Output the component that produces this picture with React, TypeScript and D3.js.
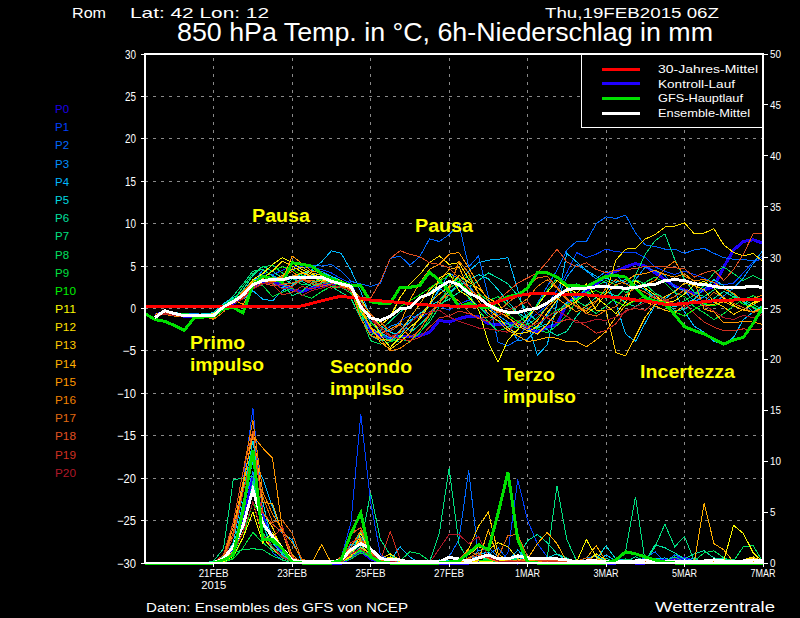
import React from "react";
import * as d3 from "d3";

const tickSteps = [7, 15, 23, 31, 39, 47, 55, 63];
const tickLabels = ["21FEB", "23FEB", "25FEB", "27FEB", "1MAR", "3MAR", "5MAR", "7MAR"];
const tempTicks = [30, 25, 20, 15, 10, 5, 0, -5, -10, -15, -20, -25, -30];
const precipTicks = [50, 45, 40, 35, 30, 25, 20, 15, 10, 5, 0];
const memberNames = ["P0","P1","P2","P3","P4","P5","P6","P7","P8","P9","P10","P11","P12","P13","P14","P15","P16","P17","P18","P19","P20"];
const memberColors = ["#1c00e8","#0040ff","#0068ff","#0090ff","#00b8ff","#00d8e0","#00e0a0","#00e080","#00e060","#00e040","#00f000","#f8f800","#ffe000","#ffc800","#ffb000","#ff9800","#f08000","#e06810","#e05020","#d03020","#b01828"];
const legendNames = ["30-Jahres-Mittel", "Kontroll-Lauf", "GFS-Hauptlauf", "Ensemble-Mittel"];
const legendColors = ["#ff0000", "#2000ff", "#00e000", "#ffffff"];

const tempClim = [.2,.2,.2,.2,.2,.2,.2,.2,.2,.2,.2,.2,.2,.2,.25,.25,.3,.6,.9,1.2,1.45,1.3,1.15,1,.9,.8,.7,.6,.5,.4,.35,.3,.25,.2,.3,.4,.8,1.2,1.5,1.7,1.75,1.75,1.7,1.7,1.65,1.6,1.5,1.4,1.3,1.2,1.0,.9,.7,.5,.5,.6,.7,.8,.9,1,1,1.05,1.1,1.1];
const tempMean = [null,-1.1,-.25,-.6,-.85,-.85,-.85,-.8,.2,.8,1.6,2.8,3.3,3.4,3.4,3.7,3.6,3.6,3.7,3.2,2.9,2.6,.2,-1.1,-1.4,-.9,-.05,.1,1.3,1.7,2.5,3.2,2.8,1.8,1.3,.4,-.15,-.45,-.45,-.15,.05,.65,1.45,2.2,2.4,2.4,2.55,2.6,2.45,2.4,2.45,2.75,2.85,3.3,3.4,3.3,2.9,2.85,2.6,2.45,2.45,2.5,2.65,2.45];
const tempGfs = [-.6,-1.3,-1.5,-2,-2.6,-1.1,-1,-.9,0,.1,-.5,2.8,3.8,3.5,3.1,5.4,5.2,5,4.1,3.5,3.1,2.7,2.7,.8,.6,.6,2.5,2.5,2.7,4.3,3.3,2,.2,.6,.2,.1,.8,1.4,1.6,2.4,4.2,4.2,3.7,2.75,2.7,2.55,3.2,3.8,3.9,3.7,2.45,1.25,.85,.65,-.75,-2.15,-2.6,-3,-3.6,-4.2,-3.7,-3.4,-1.75,.2];
const tempControl = [null,-.8,-.4,-.7,-.9,-.9,-.9,-.8,.1,.6,1.4,2.6,3.1,3.1,2.8,2.2,2,2.4,2.7,2.9,2.9,2.7,0,-2.6,-3.3,-3.4,-3.3,-3.3,-3.2,-2.8,-1.4,-1.6,-1.2,-.9,-1,-1.8,-1.9,-1.8,-1.7,-2.3,-2.8,-2.2,-1.9,.6,1.4,2,2.9,3.9,4.4,4.9,5.3,5,4.2,3.4,2.6,2.2,1.7,2.2,2.6,4.9,6.9,7.9,8.1,7.7];
const tempP0 = tempControl;
const tempP1 = [null,-.7,-.5,-.8,-.9,-.8,-.7,-.8,.3,.9,1.5,2.9,4.1,4,4.5,5,4.9,4.8,4.6,4.2,3.5,3,.5,-1.5,-2.8,-2.6,-1.5,-.8,-1.2,-.4,.3,-.2,.5,1,.2,-.6,-1.5,-2.2,-2,-1.4,-.6,.4,2.2,4.2,6.6,6,6.4,7,6.7,6.6,6.6,6,4.9,4.4,4,4.4,4,3.6,3,2.8,3,4.2,5.5,5.9];
const tempP2 = [null,-.9,-.4,-.6,-.9,-1,-.8,-.7,.1,.7,1.8,2.4,3.7,3.5,3.8,4.6,4.8,5.1,5,5.2,4.4,3.2,2.9,2.6,3,5.9,6.2,5.1,6.1,8.2,7.9,8.7,10,4.9,6.2,1.4,-4,-4.4,-3.7,-1.7,.6,2.6,4.5,6.9,7.9,7.9,10,10.8,10.6,11,8.9,7.5,7.3,7,7,6.5,6.9,7.1,6.5,6,5.8,5.8,5.6,6.2];
const tempP3 = [null,-.8,-.3,-.5,-.7,-.6,-.7,-.6,.5,1.2,1.4,3.1,4.5,3.9,3.4,3.5,3.2,3.9,4.4,3.8,3.1,2.5,-.4,-2.4,-3,-2.1,-1.7,-2.6,-1.2,.6,2.1,4.2,3.5,2.7,1.3,.2,-.8,-1.6,-3.8,-3.6,-2.4,-.8,1,3.7,5.2,4.4,3.5,4.4,3.9,2.9,3.4,4.9,4.4,3.9,2.5,2.1,.8,1.4,.7,1.5,2.4,3.6,5.3,6.9];
const tempP4 = [null,-.9,-.5,-.7,-.8,-.9,-.8,-.9,.2,.6,1.1,2.1,1.1,.9,2.1,2.7,3.6,4.6,5.5,6.8,6.5,4.5,2,-1.1,-2.8,-3.5,-2.6,-1.4,-.6,.2,2.4,1.6,3.2,4.4,5.4,5.7,5.8,6,2.2,-1.7,-5.5,-4.3,.6,6.5,5.5,4.5,3.8,3,.6,-3,-3.9,-1.7,.4,1.1,2.1,-.4,-2.1,-2.8,-3.9,-4.2,-3.4,-1.3,-.4,.4];
const tempP5 = [null,-.7,-.4,-.5,-.6,-.8,-.6,-.5,.6,1.3,2,3.4,3.8,3,2.4,3.5,4.1,4.5,4.2,3.8,3.3,2.4,.9,-.6,-2,-2.8,-3.2,-1.6,-.7,.3,.9,2,2.6,3.4,4,3.5,2.2,.8,-.5,-1.2,-2.3,-1.8,-.4,.7,1.2,2.4,3.3,3.6,3.1,3.4,2.8,2.2,1.3,.5,.2,.6,1.1,2.3,3.4,2.7,1.6,.8,-.5,.4];
const tempP6 = [null,-.8,-.6,-.7,-.8,-.7,-.8,-.7,.4,1,2.2,3.9,5,4.4,3.6,2.9,3.2,2.6,3,3.3,2.9,2.1,-.6,-3.2,-3.8,-3.6,-4,-2.9,-1.9,-.8,.5,1.1,1.9,2.5,3.3,4.2,3.6,2.9,1.5,-.5,-1.5,-2.5,-3.2,-2.7,-.9,.4,1.3,2,1.5,.7,.2,1.1,1.7,1,-.3,-.1,.7,.4,1.2,2,1.4,.9,.1,-.6];
const tempP7 = [null,-1,-.6,-.8,-1,-.9,-.9,-.8,.1,1.5,2.9,4.4,4.6,3.8,3.1,1.5,2,3.1,3.4,2.6,1.9,1.2,-1.2,-3.1,-2.6,-1.5,-.4,.3,1.2,1.9,3,2.6,3.6,1.2,.3,-.9,-1.4,-1.8,-2.3,-1.9,-1.1,.2,1.4,2.4,2.9,1.8,1.6,1.2,1.5,1.3,3.9,6.4,8,8.8,5.8,3.4,1.9,1.4,2.2,2.6,1.6,1,.5,-.2];
const tempP8 = [null,-.8,-.6,-.7,-.9,-1,-.9,-1,-.2,.9,2.6,4.1,4.9,5.1,4.2,3.6,2.8,2.9,3.3,3.6,3.1,2.8,-.9,-3.8,-4.2,-3.9,-3.2,-4,-2.8,-1.6,.2,1.6,2.8,1.8,-.2,-1.6,-2.7,-2.2,-1.6,-.8,.5,2.1,3.6,2.6,.9,.2,-.6,.3,1.3,2.4,3.4,2.9,1.8,1.2,.4,.9,1.6,2.7,4.2,4.9,4.1,3.3,3.9,3.3];
const tempP9 = [null,-.8,-.7,-.7,-.6,-.7,-.8,-.6,.4,1.1,1.7,3.3,2.7,1.4,1.9,2.4,1.6,1.2,2,2.6,2.5,1.8,-.2,-1.6,-2.9,-3.9,-3.6,-3.9,-2.9,-1.2,.9,2.4,3.1,3.9,1.8,.9,1.4,.4,-.6,-1.9,-2.4,-2.9,-2,-.8,.9,1.9,2.6,3.3,2.8,1.9,2.4,3.1,3.7,3,1.9,1.4,.2,-.5,-1.3,-.6,.3,1.1,1.5,1];
const tempP10 = [null,-.9,-.5,-.6,-.8,-.7,-.7,-.7,.3,.7,1.3,2.6,3.6,4.5,4.9,4.6,3.9,3.6,3.3,3,2.7,2.4,-.6,-2,-1.6,-.9,.2,.9,1.6,2.4,3.2,3.9,3.1,2.1,1.6,.5,.1,-.7,-1.6,-2.1,-1.8,-1,-.2,.4,1.1,1.8,2.1,1.6,.8,.3,.9,1.5,.7,.3,-.4,-.9,-.1,.6,.3,.9,1.3,.5,.2,-.3];
const tempP11 = [null,-.7,-.5,-.7,-.8,-.8,-.7,-.9,.2,.8,1.9,3.4,4.1,5.2,6,5.4,4.6,4,3.7,3.6,3,2.4,1.2,-.9,-3.1,-4.6,-3.4,-2.2,-1.3,.4,3.6,4.2,2.1,1.4,-.1,-4,-6.3,-3.7,-2.5,-1.1,.3,1.9,3.3,2.5,1.8,2.9,1.3,.4,-.6,.8,3.3,2.4,1.6,.6,.9,1.7,2.8,3.2,2.4,1.2,.4,-.2,.7,1.2];
const tempP12 = [null,-.7,-.4,-.7,-.7,-.9,-.8,-.6,.1,.8,1.6,3.2,3.6,4.4,5.6,5,4.3,3.8,3.2,3.6,3.3,2.7,.5,-1,-2,-1,1.3,2.9,4,5.4,6.2,5.2,5.4,3.5,1.8,-.1,-1,-2.3,-3,-2.8,-2.1,-.5,1,2.2,.6,-.6,.2,1.8,5.7,7,7.1,8.2,8.7,9.6,9.7,10.1,8.8,8.9,9.4,7.5,6.6,6.2,6.5,5.5];
const tempP13 = [null,-.8,-.5,-.6,-.9,-.8,-.8,-1,.1,.7,1.4,2.8,3.5,3.3,3.9,4.6,4.9,4.2,3.9,3.3,2.9,2.3,-.3,-2.1,-4,-4.8,-4,-2.9,-1,.6,1.7,2.6,3.9,3.1,2.4,1.2,.6,-1,-2.1,-2.6,-3,-1.9,-.5,.2,.9,1.7,-.2,-.2,-5.2,-5.6,-3.3,-1,.5,1.4,2,3,2.7,2.2,.8,.2,-.7,-.1,.5,1.1];
const tempP14 = [null,-.9,-.5,-.6,-.7,-.8,-.9,-1.1,.2,.9,1.8,3,3.4,3.2,3.1,3.8,4.2,3.7,3.5,3.2,2.8,2.4,.4,-2.4,-3.6,-3.8,-2.7,-1.1,.5,2.2,3.2,4.6,4.9,2.4,.9,-.6,-1.5,-2.6,-3.2,-3.9,-3.7,-3.4,-3.5,-3.9,-3.9,-4.5,-3.7,-2.7,-1,.4,1.1,.8,.3,-.2,-.5,.4,1,.3,.5,.8,.3,-.2,-.4,.1];
const tempP15 = [null,-.8,-.6,-.8,-.9,-.7,-.9,-1.2,.3,1,.5,2.5,3.9,3.2,3.4,6.2,5.3,4.4,4.2,3.6,3,2.4,.2,-2.2,-3,-2.4,-1.8,1,3,4.6,5.2,6.4,6.6,4.8,2.8,.9,-.3,-1.1,-1.8,-2.4,-1.4,.2,1.2,.4,-.4,.3,.9,1.7,2.8,3.2,4,4.1,4.5,4,3.7,4.1,3.2,-.1,-.4,-1.7,-1.7,-1.5,-1.6,-1.9];
const tempP16 = [null,-.9,-.7,-.9,-1,-1,-.9,-1.3,-.4,.8,2,3.2,2.9,3.4,3.7,4.4,3.4,3.3,3.1,3.4,2.7,2.2,-1.2,-3.2,-3.6,-5,-4.7,-3.9,-2.5,-.8,.6,2.2,5.6,4.2,1.8,.2,-.4,-.9,.3,1.2,2.6,3.4,2.4,1,.3,-.3,.8,2.4,3.4,2.9,2.3,2.8,3.3,4.7,5.6,3.8,3.3,3.4,3.1,2.3,1.8,.8,1.2,1.6];
const tempP17 = [null,-.8,-.6,-.7,-.9,-.8,-1,-1.1,.1,.8,1.5,2.7,3.3,3.7,2.9,3,3.4,2.9,2.6,2.9,3,2.4,.8,-.7,-1.6,-2.7,-1.9,-3.4,-2.6,-.6,.9,1.6,.9,-.4,-1.2,-1,-.4,.7,1.5,2.6,3.6,3.8,2.5,1.2,.2,-.6,-.9,-.2,.2,1.6,2.4,1.9,1.2,.9,1.4,2.2,1.5,.8,1.9,1.3,.6,.1,-.5,-.1];
const tempP18 = [null,-.7,-.5,-.6,-.8,-.9,-.8,-.9,.3,.8,1.2,2.3,3,2.7,2.8,2.6,3.4,3.1,2.8,2.4,2.6,2,1.3,1.2,3.2,5.9,6.8,6.4,6.1,5.4,5.2,4.8,3.6,2.4,1.4,.3,1,2,3,3.6,4.2,5.5,7,5.5,4.9,5.4,4.6,4.2,4.5,4.6,4.7,5,4.9,4.9,4.8,4.7,3.7,4.2,4.5,3.3,4.6,6.4,8.8,8.8];
const tempP19 = [null,-.9,-.7,-.8,-1,-1,-1.1,-.9,.2,.7,1.3,2.5,3.2,2.9,1.6,1.9,2.6,2.3,2.8,3.3,2.8,2.4,.1,-1,-2.2,-3.2,-3.6,-3.8,-3.4,-2.2,-1.1,-.9,-.3,-.6,-1.1,-1.6,-.8,-.2,.3,.8,-.6,-1.1,-1.7,-1.3,-1.4,-2.1,-2.9,-2.6,-1.8,-.2,0,-.2,.8,.9,.6,.7,-.6,-1.6,-2.2,-2.6,-2.6,-2.4,-2.5,-2.4];
const tempP20 = [null,-.8,-.6,-.8,-.9,-.9,-.8,-.9,.1,.6,1.1,2.3,2.9,3.1,2.3,2.5,1.5,2.1,2.4,2.8,2.5,2.1,.6,-1.2,-2.5,-3.3,-2.9,-1.7,-.7,-.5,-.2,-1,-1.5,-1.9,-2.3,-2.4,-2.6,-2.8,-1.4,-2.1,-1.8,-1,-.3,-.9,-1.7,-1.6,-1.3,-1.4,-1,-.4,.2,.7,1.6,1.1,.5,.2,.9,.4,-.3,-1.1,-1.3,-.8,-1.1,-.7];
const tempMembers = [tempP0,tempP1,tempP2,tempP3,tempP4,tempP5,tempP6,tempP7,tempP8,tempP9,tempP10,tempP11,tempP12,tempP13,tempP14,tempP15,tempP16,tempP17,tempP18,tempP19,tempP20];

const precipMean = [0,0,0,0,0,0,0,0,.45,1.6,3.7,7.2,3.9,2.6,1.4,.3,.1,.1,.1,.1,.3,1.3,1.9,1.4,.45,.3,.3,.1,.1,.1,.1,.55,.4,.2,.5,.8,.4,.4,.7,.5,.4,.4,.4,.3,.1,.2,.2,.1,.1,.1,.2,.3,.2,.1,.1,.2,.1,.2,.3,.2,.1,.2,.3,.2];
const precipGfs = [0,0,0,0,0,0,0,0,.3,.8,5.2,11.1,2.3,2.3,1.4,.1,0,0,0,0,.3,2.9,4.9,.6,.1,0,0,0,0,0,0,.1,.2,1,1.8,1.3,4.9,8.9,2.3,.1,0,0,0,0,0,0,0,0,.3,1.1,.9,.6,.3,.1,0,0,0,0,0,0,0,0,0,0];
const precipControl = [0,0,0,0,0,0,0,0,.2,1.5,4,8.5,4.5,2.5,1,.2,0,0,0,0,0,.5,1.2,.4,.1,0,0,0,0,0,0,0,0,0,.2,.1,.3,.4,0,.1,.1,.2,.1,0,0,0,0,0,0,.1,0,0,.2,.2,.4,.5,.1,0,0,0,0,0,0,0];
const precipP0 = precipControl;
const precipP1 = [0,0,0,0,0,0,0,0,.5,3,8,15.2,5,2,1,.3,0,0,0,0,.5,4,14.6,6,.8,.2,0,0,0,0,.1,.3,0,0,0,0,0,1,8.2,4.2,1.9,.6,0,.2];
const precipP2 = [0,0,0,0,0,0,0,0,.1,1,3.5,7,4,1,.3,0,0,0,0,0,.1,.8,2.2,1,.2,0,0,0,0,.1,.2,.6,2.3,9.1,.6,.8,1.5,.3,.2,.5,.3,.1,.5,.1,0,0,0,0,.3,.4,.2,.5,1.1,.1,.8,.4];
const precipP3 = [0,0,0,0,0,0,0,0,.3,1.2,5.5,9,3,1.6,.5,.1,0,0,0,0,.2,1.5,3,1.3,.1,0,0,0,0,0,.2,.1,0,.3,1.2,1.5,.6,.2,.4,.3,.1,0,.2,.1,0,.5,.7,.2];
const precipP4 = [0,0,0,0,0,0,0,0,.6,1.4,6,10,8.3,5.5,2.9,2.3,.1,0,0,0,.3,1.8,2.6,1.2,.3,.2,1.6,.6,0,0,0,.1,.1,.2,.8,1.1,.3,.1,1.3,.2,0,.1,.4,.1,0,.2,.1,.8,.2,.4,0,0,.4,.5,.1,.2,.5];
const precipP5 = [0,0,0,0,0,0,0,0,.4,2,7,12,6,2,.8,.2,0,0,0,0,.1,.7,1.6,.8,.1,0,.2,0,0,0,.3,.2,.1,0,.4,.8,.2,.1,.6,.2,.2,.5,.9,.2,.3,0,.3,1.7,.4];
const precipP6 = [0,0,0,0,0,0,0,0,.2,.9,3,8,3.8,1.5,1,.2,0,0,0,0,.2,1,3,1.5,.2,0,0,.1,0,0,0,0,.1,0,.5,.4,.3,.5,.4,2.2,2.8,2,.9,.5,0,0,.2,.5,0,.1,.6,.2,1.8,1.5,1,.4,.9,1.2,.5,.4,.3];
const precipP7 = [0,0,0,0,0,0,0,.2,1.4,8.2,8.3,8.5,3,1.5,.5,.1,0,0,0,0,.3,1,1.8,6.9,2.3,.8,.1,.2,0,.1,2.9,9.3,1.9,.1,.2,.4,.1,.3,.2,.1,.3,.5,7.6,2.3,.2,0,0,.3,.1,1.2,6.5,.1,1.6,3.8,1.6,2.6,.2,.2,.1,.2];
const precipP8 = [0,0,0,0,0,0,0,.1,.7,1,1.3,1.4,1.3,.7,.3,0,0,0,0,0,.1,.6,1.2,.7,.2,.3,.2,1.1,.9,.2,.1,0,0,.2,.3,.1,.1,.4,.3,.3,.4,.2,.4,.1,.1,0,.2,.1,0,.4,.2,.2,.3,.2,.6,.1,.2,1,1.2,.5,.2,1.6,1.7,.1];
const precipP9 = [0,0,0,0,0,0,0,0,.1,.4,1.5,3,2,1.2,.7,.1,0,0,0,0,.1,.4,1,.6,.1,0,0,0,0,0,0,.2,.3,.1,.5,.3,.1,.3,.2,.1,0,.1,.2,0,.1,.3,.1];
const precipP10 = [0,0,0,0,0,0,0,0,.1,.5,2.5,6,4.3,2,1.4,.3,0,0,0,0,.2,.8,1.3,.6,.1,0,0,0,0,0,.1,.2,.1,.1,.2,.2,.3,.1,.1,.2,.1,.1,.1];
const precipP11 = [0,0,0,0,0,0,0,0,.1,.7,2.5,5,2,3,1.6,.2,0,0,0,0,.1,.6,2.9,1,.2,.6,.1,0,0,0,0,0,0,.1,.2,.1,.3,.2,.2,.1,.2,.1,.3,0,.1,2.3,.6,.1,0,.1,.1,0,0,.1,0,0,0,.1,0,.2,3.7,2.9,1,.1];
const precipP12 = [0,0,0,0,0,0,0,0,.2,1.2,3,6,2.5,1.4,.6,.1,0,0,0,0,.3,1.2,1.8,.8,.4,.9,.3,0,0,0,0,.1,.4,.8,1.6,1.3,2,1.6,.4,.1,0,.1,.1,.3,0,.1,.9,.3,0,.1,.1,.1,0,.2,.1,.1,0,0,.1,.2,.1,.3,.6,.1];
const precipP13 = [0,0,0,0,0,0,0,0,.3,1.5,3.5,7,5,3.5,1.2,.3,0,0,0,0,.1,.7,1.5,.9,.6,.2,0,0,0,0,.1,.2,.3,1.4,3.6,5,.9,.2,.3,.1,.2,.1,0,.1,.3,.2,.1,.2,0,0,.1,0,.1,.2,0,0,.2,.1,.1,.1,0,.2,.5,.3];
const precipP14 = [0,0,0,0,0,0,0,0,.4,3,7.5,13,6,5.8,3,.2,.1,0,1.8,0,.2,1.1,2.4,1.4,.2,0,.1,0,0,0,.1,0,.2,.1,.3,3.2,.5,.2,.2,.4,1.9,3,1.9,.1,.2,.5,1.7,.2,0,0,.1,.2,0,0,.3,.2,.1,5.9,1.9,1.3,.1,.2,.1,.2];
const precipP15 = [0,0,0,0,0,0,0,0,.5,3.5,8,12.5,11.3,10.3,3.4,.8,0,0,0,0,.3,1.3,2.2,1,.4,0,.1,0,0,0,0,.1,.3,.2,.4,.8,.5,.2,.1,.2,.3,.1,.1,0,.2,.1,.4,.1,0,.1,0,.1,.1,0,.1,.3,.1,.2,.1,.1,0,.2,.4,.1];
const precipP16 = [0,0,0,0,0,0,0,0,.6,4,9,14,7,4.8,3.2,2,.4,0,0,0,.4,1.6,3.2,1.2,.3,.1,0,0,0,0,0,.2,.1,.5,1,.4,.1,.2,.3,.2,.1,.1,.3,.2,.1,.2,.1];
const precipP17 = [0,0,0,0,0,0,0,0,.5,3,7,11,6.5,4,4.2,2.9,.3,0,0,0,.6,3,3.4,1.1,.1,0,0,.1,0,0,0,.1,.4,1.2,.7,.5,.6,2.7,2.8,.6,.2,.5,.3,.1,.2,.5,.3,.1,0,0,.1,.1,0,0,.1,.1,.1,0,.1,.1,.1];
const precipP18 = [0,0,0,0,0,0,0,0,.8,4,9,13,5,3.8,3,.6,.1,0,0,0,.5,2.8,3.5,.9,.3,.3,0,0,0,0,0,.1,.2,.3,.4,.6,.5,.3,.1,.6,.3,.2,.2,.1,0,.2,.3,.1];
const precipP19 = [0,0,0,0,0,0,0,0,.4,2.6,7,10.5,4.2,2.4,3.6,.5,0,0,0,0,.3,2,2.5,.8,.2,3.1,.4,0,0,0,0,.1,.2,.4,.8,.5,.2,.1,.2,.1,0,.2,.1,0,.1];
const precipP20 = [0,0,0,0,0,0,0,0,.2,1,3,6,2.8,1.6,.6,.1,0,0,0,0,.1,.9,1.4,.7,.5,.2,0,0,0,0,1.4,2.8,2.8,1.9,2.6,.6,.2,.1,.2,.1,0,0,.1,0,.1];
const precipMembers = [precipP0,precipP1,precipP2,precipP3,precipP4,precipP5,precipP6,precipP7,precipP8,precipP9,precipP10,precipP11,precipP12,precipP13,precipP14,precipP15,precipP16,precipP17,precipP18,precipP19,precipP20];

const annotations: [string, number, number, number][] = [
  ["Pausa", 252, 222, 58], ["Pausa", 415, 232, 58],
  ["Primo", 190, 349, 55], ["impulso", 190, 371, 74],
  ["Secondo", 330, 373, 82], ["impulso", 330, 395, 74],
  ["Terzo", 503, 381, 52], ["impulso", 503, 403, 73],
  ["Incertezza", 640, 378, 95],
];

const W = 800, H = 618;
const L = 145, R = 763, T = 54, B = 563;
const x = d3.scaleLinear().domain([0, 63]).range([L, R]);
const yT = d3.scaleLinear().domain([-30, 30]).range([B, T]);
const yP = d3.scaleLinear().domain([0, 50]).range([B, T]);
const FONT = "'Liberation Sans', Arial, sans-serif";

const tempLine = d3.line<number | null>().defined(d => d !== null).x((_, i) => x(i)).y(d => yT(d as number));
const precipLine = d3.line<number>().x((_, i) => x(i)).y(d => yP(d));

function times(a: number[]) {
  return d3.range(64).map(i => a[i] ?? 0);
}

function Txt(p: any) {
  const { len, children, size = 11, fill = "#fff", weight = 400, anchor = "start", ...rest } = p;
  return (
    <text fontFamily={FONT} fontSize={size} fill={fill} fontWeight={weight} textAnchor={anchor}
      textLength={len} lengthAdjust={len ? "spacingAndGlyphs" : undefined} {...rest}>{children}</text>
  );
}

export default function App() {
  return (
    <svg width={W} height={H} viewBox={`0 0 ${W} ${H}`} style={{ position: "absolute", left: 0, top: 0, display: "block", background: "#000" }}>
      <rect width={W} height={H} fill="#000" />
      <g shapeRendering="crispEdges">
        {tempTicks.filter(t => t !== 30 && t !== -30).map(t => (
          <line key={t} x1={L} x2={R} y1={yT(t)} y2={yT(t)} stroke="#8a8a8a" strokeWidth={1} strokeDasharray="3 5" />
        ))}
        {tickSteps.slice(0, -1).map(s => (
          <line key={s} x1={x(s)} x2={x(s)} y1={T + 4} y2={B} stroke="#8a8a8a" strokeWidth={1} strokeDasharray="3 5" />
        ))}
        <path d={tempLine(tempControl) as string} fill="none" stroke={legendColors[1]} strokeWidth={3} />
        <path d={precipLine(times(precipControl)) as string} fill="none" stroke={legendColors[1]} strokeWidth={3} />
        {tempMembers.map((m, i) => (
          <path key={i} d={tempLine(m) as string} fill="none" stroke={memberColors[i]} strokeWidth={1} />
        ))}
        {precipMembers.map((m, i) => (
          <path key={i} d={precipLine(times(m)) as string} fill="none" stroke={memberColors[i]} strokeWidth={1} />
        ))}
        <path d={tempLine(tempGfs) as string} fill="none" stroke={legendColors[2]} strokeWidth={3} />
        <path d={tempLine(tempClim) as string} fill="none" stroke={legendColors[0]} strokeWidth={3} />
        <path d={tempLine(tempMean) as string} fill="none" stroke={legendColors[3]} strokeWidth={3} />
        <path d={precipLine(times(precipMean)) as string} fill="none" stroke={legendColors[3]} strokeWidth={3} />
        <path d={precipLine(times(precipGfs)) as string} fill="none" stroke={legendColors[2]} strokeWidth={3} />

        {/* legend */}
        <rect x={581.5} y={T} width={R - 581.5} height={73} fill="#000" stroke="#fff" strokeWidth={1} />
        {legendNames.map((_, i) => (
          <line key={i} x1={602} x2={640} y1={69 + i * 14.7} y2={69 + i * 14.7} stroke={legendColors[i]} strokeWidth={3} />
        ))}

        {/* frame and ticks */}
        <rect x={L} y={T} width={R - L} height={B - T} fill="none" stroke="#fff" strokeWidth={2} />
        {tempTicks.map(t => <line key={t} x1={L - 4} x2={L} y1={yT(t)} y2={yT(t)} stroke="#fff" />)}
        {precipTicks.map(t => <line key={t} x1={R} x2={R + 5} y1={yP(t)} y2={yP(t)} stroke="#fff" />)}
        {tickSteps.map(s => <line key={s} x1={x(s)} x2={x(s)} y1={B} y2={B + 4} stroke="#fff" />)}
      </g>

      {legendNames.map((n, i) => (
        <Txt key={n} x={658} y={73 + i * 14.7} size={10.5} len={[100, 77, 85, 92][i]}>{n}</Txt>
      ))}
      {tempTicks.map(t => (
        <Txt key={t} x={136} y={yT(t) + 4.5} size={12} anchor="end" len={t < 0 ? 19 - (t > -10 ? 5.5 : 0) : t >= 10 ? 11 : 5.5}>{t < 0 ? `\u2212${-t}` : t}</Txt>
      ))}
      {precipTicks.map(t => (
        <Txt key={t} x={770} y={yP(t) + 4} size={11.5} len={t >= 10 ? 11 : 5.5}>{t}</Txt>
      ))}
      {tickSteps.map((s, i) => (
        <Txt key={s} x={x(s)} y={577} size={11} anchor="middle" len={i < 4 ? 30 : 25}>{tickLabels[i]}</Txt>
      ))}
      <Txt x={x(7)} y={589} size={11} anchor="middle" len={25}>2015</Txt>
      {memberNames.map((n, i) => (
        <Txt key={n} x={55} y={113 + i * 18.19} size={11} fill={memberColors[i]} len={i >= 10 ? 21 : 14}>{n}</Txt>
      ))}
      <Txt x={72} y={18} size={15} len={34}>Rom</Txt>
      <Txt x={130} y={18} size={15} len={139}>Lat: 42  Lon: 12</Txt>
      <Txt x={545} y={18} size={15} len={174}>Thu,19FEB2015 06Z</Txt>
      <Txt x={177} y={41} size={25} len={536}>850 hPa Temp. in °C, 6h-Niederschlag in mm</Txt>
      <Txt x={146} y={612} size={12} len={262}>Daten: Ensembles des GFS von NCEP</Txt>
      <Txt x={655} y={612} size={14} len={120}>Wetterzentrale</Txt>
      {annotations.map(([t, ax, ay, len], i) => (
        <Txt key={i} x={ax} y={ay} size={17.5} weight={700} fill="#ffff00" len={len}>{t}</Txt>
      ))}
    </svg>
  );
}
